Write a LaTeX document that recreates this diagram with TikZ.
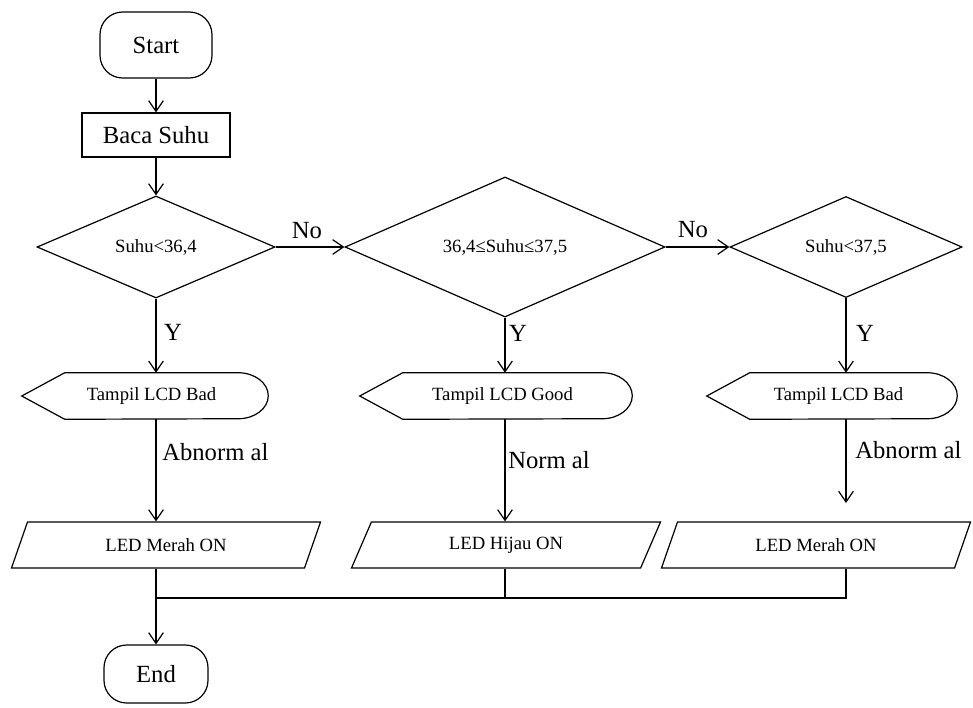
\documentclass[tikz,border=0pt]{standalone}
\usepackage{fontspec}
\setmainfont{Liberation Serif}
\usetikzlibrary{shapes.geometric,arrows.meta}

\begin{document}
\begin{tikzpicture}[
    x=0.75pt, y=-0.75pt,
    big/.style={font=\fontsize{18.5}{22}\selectfont},
    small/.style={font=\fontsize{14}{17}\selectfont},
    term/.style={rectangle, rounded corners=17pt, draw=black, line width=0.9pt, inner sep=0pt, big},
    proc/.style={rectangle, draw=black, line width=0.9pt, minimum width=111pt, minimum height=33pt, big},
    decision/.style={diamond, draw=black, line width=0.9pt, inner sep=0pt, small},
    disp/.style={rectangle, minimum height=34.5pt, inner sep=0pt, small},
    io/.style={trapezium, trapezium left angle=39.4, trapezium right angle=140.6, trapezium stretches body, draw=black, line width=0.9pt, minimum width=231.75pt, minimum height=34.5pt, inner sep=0pt, small},
    lbl/.style={inner sep=0pt, big},
    arrow/.style={line width=0.9pt, -{Straight Barb[length=8pt,width=11pt]}},
    line/.style={line width=0.9pt}
]
\useasboundingbox (0,0) rectangle (973,707);

% Main column
\node[term, minimum width=84pt, minimum height=49.5pt] (start) at (156,45) {Start};
\node[proc] (baca) at (156,135) {Baca Suhu};

% Decisions
\node[decision, minimum width=178.5pt, minimum height=76.5pt] (cek1) at (156,247) {Suhu<36,4};
\node[decision, minimum width=240pt, minimum height=82.5pt] (cek2) at (505,247) {36,4≤Suhu≤37,5};
\node[decision, minimum width=174pt, minimum height=75.75pt] (cek3) at (846,247) {Suhu<37,5};

% LCD displays
\node[disp, minimum width=129.75pt] (lcd1) at (151.5,396) {Tampil LCD Bad};
\node[disp, minimum width=149.25pt] (lcd2) at (502.5,396) {Tampil LCD Good};
\node[disp, minimum width=132.75pt] (lcd3) at (838.5,396) {Tampil LCD Bad};
\draw[line] (lcd1.north west) -- (lcd1.north east) arc[start angle=90, end angle=-90, x radius=22.5pt, y radius=17.25pt] -- (lcd1.south west) -- ([xshift=-32.25pt]lcd1.west) -- cycle;
\draw[line] (lcd2.north west) -- (lcd2.north east) arc[start angle=90, end angle=-90, x radius=22.5pt, y radius=17.25pt] -- (lcd2.south west) -- ([xshift=-32.25pt]lcd2.west) -- cycle;
\draw[line] (lcd3.north west) -- (lcd3.north east) arc[start angle=90, end angle=-90, x radius=22.5pt, y radius=17.25pt] -- (lcd3.south west) -- ([xshift=-32.25pt]lcd3.west) -- cycle;

% LED outputs
\node[io] (led1) at (166,545) {LED Merah ON};
\node[io] (led2) at (506,545) {LED Hijau ON};
\node[io] (led3) at (816,545) {LED Merah ON};

\node[term, minimum width=78pt, minimum height=43.5pt] (stop) at (156,674) {End};

% Labels
\node[lbl] (no1) at (307,231) {No};
\node[lbl] (no2) at (693,230) {No};
\node[lbl] (y1) at (173,332) {Y};
\node[lbl] (y2) at (518,333) {Y};
\node[lbl] (y3) at (865,333) {Y};
\node[lbl, anchor=west] (ab1) at (162,452) {Abnorm al};
\node[lbl, anchor=west] (nm2) at (508,460) {Norm al};
\node[lbl, anchor=west] (ab3) at (855,450) {Abnorm al};

\coordinate (join) at (156,598);
\coordinate (tip3) at (846,503);

% Flow
\draw[arrow] (start) -- (baca);
\draw[arrow] (baca) -- (cek1);
\draw[arrow] (cek1) -- (cek2);
\draw[arrow] (cek2) -- (cek3);
\draw[arrow] (cek1.south) -- (cek1.south |- lcd1.north);
\draw[arrow] (cek2.south) -- (cek2.south |- lcd2.north);
\draw[arrow] (cek3.south) -- (cek3.south |- lcd3.north);
\draw[arrow] (cek1.south |- lcd1.south) -- (cek1.south |- led1.north);
\draw[arrow] (cek2.south |- lcd2.south) -- (cek2.south |- led2.north);
\draw[arrow] (cek3.south |- lcd3.south) -- (tip3);

% Merge to End
\draw[line] (cek3.south |- led3.south) -- (cek3.south |- join) -- (join);
\draw[line] (cek2.south |- led2.south) -- (cek2.south |- join);
\draw[arrow] (cek1.south |- led1.south) -- (stop);

\end{tikzpicture}
\end{document}
